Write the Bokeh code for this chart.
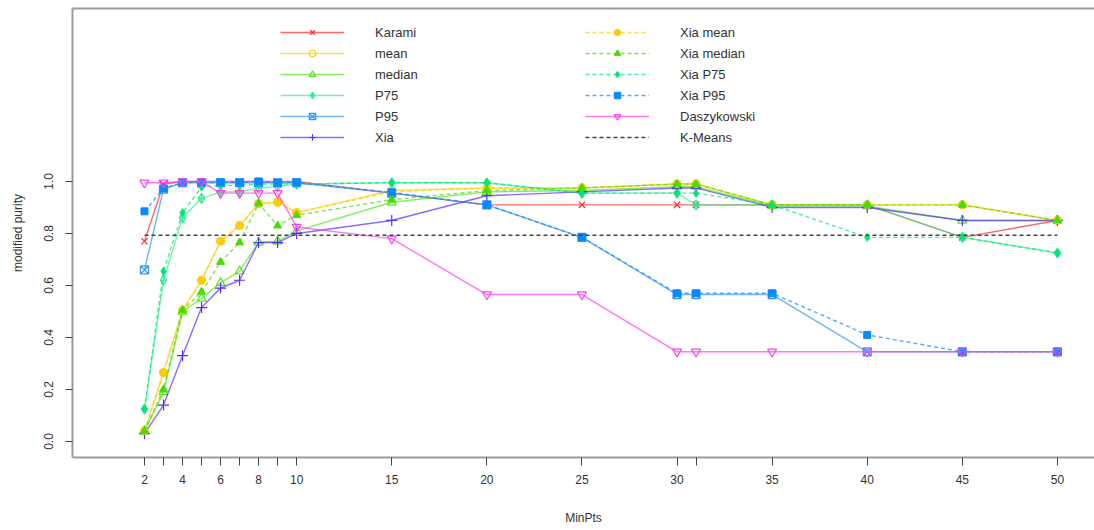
from bokeh.plotting import figure
from bokeh.models import (Range1d, FixedTicker, LinearAxis, Legend, LegendItem)
from bokeh.embed import file_html
from bokeh.resources import INLINE

# ---- data ----
minpts = [2, 3, 4, 5, 6, 7, 8, 9, 10, 15, 20, 25, 30, 31, 35, 40, 45, 50]
x_tick_labels = {2: "2", 3: "", 4: "4", 5: "", 6: "6", 7: "", 8: "8", 9: "", 10: "10",
                 15: "15", 20: "20", 25: "25", 30: "30", 31: "", 35: "35", 40: "40", 45: "45", 50: "50"}
y_ticks = [0.0, 0.2, 0.4, 0.6, 0.8, 1.0]

karami      = [0.77, 0.99, 1.0, 1.0, 1.0, 1.0, 1.0, 1.0, 1.0, 0.955, 0.91, 0.91, 0.91, 0.91, 0.91, 0.91, 0.785, 0.85]
mean_       = [0.04, 0.265, 0.505, 0.62, 0.77, 0.83, 0.915, 0.92, 0.88, 0.965, 0.975, 0.975, 0.99, 0.99, 0.91, 0.91, 0.91, 0.85]
median_     = [0.04, 0.19, 0.50, 0.55, 0.61, 0.655, 0.765, 0.77, 0.81, 0.92, 0.96, 0.965, 0.98, 0.98, 0.905, 0.905, 0.85, 0.85]
p75         = [0.125, 0.62, 0.86, 0.935, 0.96, 0.96, 0.975, 0.98, 0.99, 0.995, 0.995, 0.955, 0.955, 0.91, 0.91, 0.91, 0.785, 0.725]
p95         = [0.66, 0.97, 0.995, 0.995, 0.995, 0.995, 0.995, 0.995, 0.995, 0.955, 0.91, 0.785, 0.565, 0.565, 0.565, 0.345, 0.345, 0.345]
xia         = [0.03, 0.14, 0.33, 0.515, 0.59, 0.62, 0.765, 0.765, 0.80, 0.85, 0.945, 0.96, 0.975, 0.975, 0.90, 0.90, 0.85, 0.85]
xia_mean    = [0.04, 0.265, 0.505, 0.62, 0.77, 0.83, 0.915, 0.92, 0.88, 0.96, 0.975, 0.975, 0.99, 0.99, 0.91, 0.91, 0.91, 0.85]
xia_median  = [0.04, 0.20, 0.505, 0.575, 0.69, 0.765, 0.915, 0.83, 0.87, 0.93, 0.965, 0.975, 0.99, 0.99, 0.91, 0.91, 0.91, 0.85]
xia_p75     = [0.125, 0.655, 0.88, 0.978, 0.985, 0.985, 0.99, 0.99, 0.99, 0.995, 0.995, 0.955, 0.955, 0.955, 0.91, 0.785, 0.785, 0.725]
xia_p95     = [0.885, 0.973, 0.996, 0.996, 0.996, 0.996, 1.0, 0.995, 0.996, 0.958, 0.91, 0.785, 0.57, 0.57, 0.57, 0.41, 0.345, 0.345]
daszykowski = [0.995, 0.995, 1.0, 1.0, 0.955, 0.955, 0.955, 0.955, 0.825, 0.78, 0.565, 0.565, 0.345, 0.345, 0.345, 0.345, 0.345, 0.345]
kmeans      = [0.793] * len(minpts)

series_names = ["Karami", "mean", "median", "P75", "P95", "Xia",
                "Xia mean", "Xia median", "Xia P75", "Xia P95", "Daszykowski", "K-Means"]
series_vals = [karami, mean_, median_, p75, p95, xia,
               xia_mean, xia_median, xia_p75, xia_p95, daszykowski, kmeans]

# style: (color, marker, filled, dash, size)
styles = [
    ("#FF2A2A", "x", False, "solid", 9),
    ("#FFCC11", "circle", False, "solid", 8),
    ("#4FE81A", "triangle", False, "solid", 9),
    ("#2EF08E", "diamond_cross", False, "solid", 10),
    ("#2F95FF", "square_x", False, "solid", 8),
    ("#5A2BFF", "cross", False, "solid", 11),
    ("#FFCC00", "circle", True, "4 3", 7),
    ("#44DD00", "triangle", True, "4 3", 8),
    ("#00E676", "diamond", True, "4 3", 8),
    ("#0A88FF", "square", True, "4 3", 7),
    ("#FF3FE8", "inverted_triangle", False, "solid", 9),
    ("#444444", None, False, "4 3", 0),
]

FONT = "Liberation Sans"
TXT = "#333333"

p = figure(width=1094, height=530, output_backend="svg", toolbar_location=None,
           x_range=Range1d(-1.785, 51.95), y_range=Range1d(-0.0615, 1.665),
           min_border_left=72, min_border_right=0, min_border_top=8, min_border_bottom=73)
p.outline_line_color = None
p.xgrid.visible = False
p.ygrid.visible = False
p.background_fill_color = "white"

# axes
for ax in (p.xaxis[0], p.yaxis[0]):
    ax.axis_line_color = "#9a9a9a"
    ax.axis_line_width = 2
    ax.major_tick_line_color = "#444444"
    ax.major_tick_in = 0
    ax.major_tick_out = 8
    ax.minor_tick_line_color = None
    ax.major_label_text_font = FONT
    ax.major_label_text_font_size = "12px"
    ax.major_label_text_color = TXT
    ax.axis_label_text_font = FONT
    ax.axis_label_text_font_size = "12px"
    ax.axis_label_text_font_style = "normal"
    ax.axis_label_text_color = TXT

p.xaxis[0].ticker = FixedTicker(ticks=minpts)
p.xaxis[0].major_label_overrides = {k: v for k, v in x_tick_labels.items()}
p.xaxis[0].major_label_standoff = 9
p.xaxis[0].axis_label = "MinPts"
p.xaxis[0].axis_label_standoff = 24

p.yaxis[0].ticker = FixedTicker(ticks=y_ticks)
p.yaxis[0].major_label_overrides = {t: f"{t:.1f}" for t in y_ticks}
p.yaxis[0].major_label_orientation = "vertical"
p.yaxis[0].major_label_standoff = 12
p.yaxis[0].major_tick_out = 7
p.yaxis[0].axis_label = "modified purity"
p.yaxis[0].axis_label_standoff = 17

top_axis = LinearAxis(ticker=FixedTicker(ticks=[]), axis_line_color="#9a9a9a", axis_line_width=2,
                      major_tick_out=0, major_tick_in=0, minor_tick_out=0, minor_tick_in=0,
                      major_label_standoff=0, major_label_text_font_size="0px")
p.add_layout(top_axis, "above")

items = []
for name, vals, (col, mk, filled, dash, sz) in zip(series_names, series_vals, styles):
    rs = []
    lr = p.line(minpts, vals, line_color=col, line_width=1.4, line_dash=dash,
                line_alpha=0.7 if mk is not None else 1.0)
    rs.append(lr)
    if mk is not None:
        if filled:
            sr = p.scatter(minpts, vals, marker=mk, size=sz, fill_color=col, line_color=col,
                           line_width=1)
        else:
            sr = p.scatter(minpts, vals, marker=mk, size=sz, fill_alpha=0, line_color=col,
                           line_width=1.2)
        rs.append(sr)
    items.append(LegendItem(label=name, renderers=rs))

common = dict(orientation="vertical", border_line_color=None, background_fill_alpha=0,
              padding=0, margin=0, spacing=5, glyph_width=64, glyph_height=16, label_height=16,
              label_standoff=31, label_text_font=FONT, label_text_font_size="13px",
              label_text_color=TXT)
leg1 = Legend(items=items[:6], location=(208, 312), **common)
leg2 = Legend(items=items[6:], location=(513, 312), **common)
p.add_layout(leg1)
p.add_layout(leg2)

open("out.html", "w").write(file_html(p, INLINE))
